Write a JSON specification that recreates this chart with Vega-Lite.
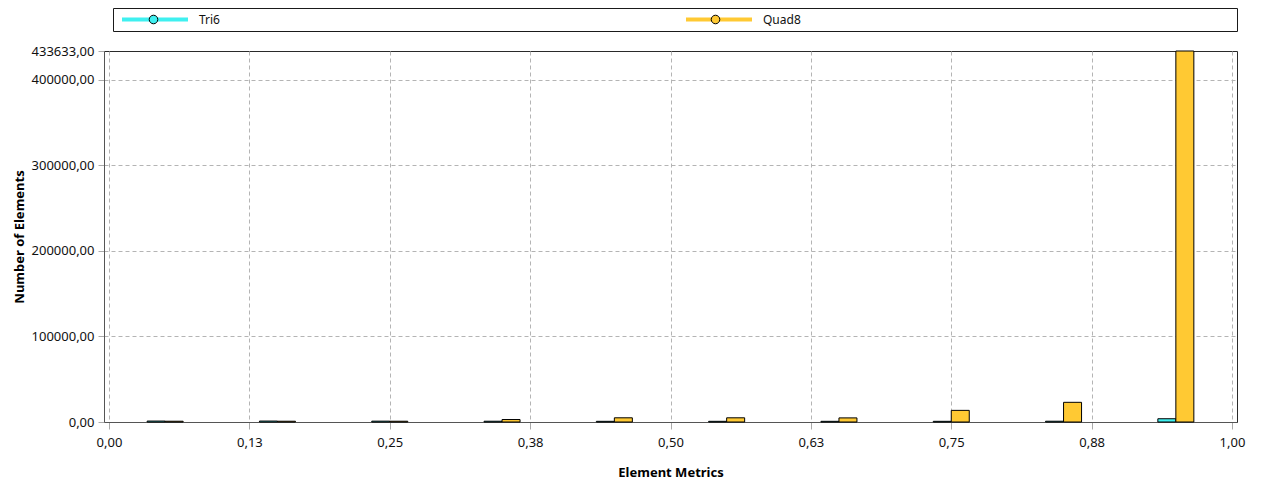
{
  "$schema": "https://vega.github.io/schema/vega-lite/v6.json",
  "width": 1133,
  "height": 371,
  "autosize": {"type": "none"},
  "padding": {"left": 104, "top": 51, "right": 32, "bottom": 65},
  "background": "white",
  "data": {
    "values": [
      {"metric": 0.05, "series": "Tri6", "count": 1100},
      {"metric": 0.15, "series": "Tri6", "count": 1100},
      {"metric": 0.25, "series": "Tri6", "count": 1000},
      {"metric": 0.35, "series": "Tri6", "count": 900},
      {"metric": 0.45, "series": "Tri6", "count": 800},
      {"metric": 0.55, "series": "Tri6", "count": 800},
      {"metric": 0.65, "series": "Tri6", "count": 800},
      {"metric": 0.75, "series": "Tri6", "count": 800},
      {"metric": 0.85, "series": "Tri6", "count": 900},
      {"metric": 0.95, "series": "Tri6", "count": 3800},
      {"metric": 0.05, "series": "Quad8", "count": 900},
      {"metric": 0.15, "series": "Quad8", "count": 900},
      {"metric": 0.25, "series": "Quad8", "count": 900},
      {"metric": 0.35, "series": "Quad8", "count": 2900},
      {"metric": 0.45, "series": "Quad8", "count": 4900},
      {"metric": 0.55, "series": "Quad8", "count": 4900},
      {"metric": 0.65, "series": "Quad8", "count": 4800},
      {"metric": 0.75, "series": "Quad8", "count": 13600},
      {"metric": 0.85, "series": "Quad8", "count": 23000},
      {"metric": 0.95, "series": "Quad8", "count": 433633}
    ]
  },
  "encoding": {
    "x": {
      "field": "metric",
      "type": "quantitative",
      "scale": {"domain": [0, 1], "nice": false, "zero": false},
      "axis": {
        "title": "Element Metrics",
        "values": [0, 0.125, 0.25, 0.375, 0.5, 0.625, 0.75, 0.875, 1],
        "labelExpr": "replace(format(datum.value, '.2f'), '.', ',')",
        "tickSize": 7,
        "labelPadding": 7,
        "titlePadding": 17
      }
    },
    "y": {
      "field": "count",
      "type": "quantitative",
      "scale": {"domain": [0, 433633], "nice": false},
      "axis": {
        "title": "Number of Elements",
        "values": [0, 100000, 200000, 300000, 400000, 433633],
        "labelExpr": "replace(format(datum.value, '.2f'), '.', ',')",
        "gridOpacity": {"condition": {"test": "datum.value > 430000", "value": 0}, "value": 1},
        "tickSize": 6,
        "labelPadding": 4,
        "titlePadding": 5
      }
    }
  },
  "layer": [
    {
      "transform": [{"filter": "datum.series === 'Tri6'"}],
      "mark": {"type": "bar", "width": 18, "xOffset": -9, "stroke": "black", "strokeWidth": 1},
      "encoding": {
        "fill": {
          "field": "series",
          "type": "nominal",
          "scale": {"domain": ["Tri6", "Quad8"], "range": ["#3ff0f0", "#ffc933"]},
          "legend": {
            "orient": "none",
            "legendX": 9,
            "legendY": -43,
            "direction": "horizontal",
            "columns": 2,
            "title": null,
            "padding": 4,
            "symbolType": "M-1,0M1,0M0.13,0A0.13,0.13 0 1 1 -0.13,0A0.13,0.13 0 1 1 0.13,0Z",
            "symbolSize": 4356,
            "symbolStrokeColor": "black",
            "symbolStrokeWidth": 1,
            "symbolOpacity": 1,
            "symbolOffset": 3,
            "labelOffset": 9,
            "labelExpr": "''",
            "columnPadding": 483,
            "clipHeight": 15,
            "zindex": 2
          }
        }
      }
    },
    {
      "transform": [{"filter": "datum.series === 'Quad8'"}],
      "mark": {"type": "bar", "width": 18, "xOffset": 9, "stroke": "black", "strokeWidth": 1},
      "encoding": {
        "fill": {"field": "series", "type": "nominal"}
      }
    },
    {
      "mark": {"type": "point", "opacity": 0},
      "encoding": {
        "stroke": {
          "field": "series",
          "type": "nominal",
          "sort": ["Tri6", "Quad8"],
          "scale": {"range": ["#3ff0f0", "#ffc933"]},
          "legend": {
            "orient": "none",
            "legendX": 9,
            "legendY": -43,
            "direction": "horizontal",
            "columns": 2,
            "title": " ",
            "titleOrient": "right",
            "titlePadding": 432,
            "titleColor": "transparent",
            "padding": 4,
            "strokeColor": "#1a1a1a",
            "fillColor": "white",
            "symbolType": "M-1,0H1",
            "symbolSize": 4356,
            "symbolStrokeWidth": 4,
            "symbolFillColor": "transparent",
            "symbolOpacity": 1,
            "symbolOffset": 3,
            "labelOffset": 9,
            "labelColor": "#111111",
            "columnPadding": 461,
            "clipHeight": 15,
            "zindex": 1
          }
        }
      }
    }
  ],
  "config": {
    "font": "Noto Sans",
    "view": {"stroke": "#2a2a2a", "strokeWidth": 1},
    "axis": {
      "labelFont": "Noto Sans",
      "labelFontSize": 13,
      "labelColor": "#111111",
      "labelFlush": false,
      "labelOverlap": false,
      "labelBound": false,
      "titleFont": "Noto Sans",
      "titleFontSize": 13,
      "titleFontWeight": "bold",
      "titleColor": "#000000",
      "domainColor": "#555555",
      "tickColor": "#aaaaaa",
      "grid": true,
      "gridColor": "#b4b4b4",
      "gridDash": [4, 3],
      "gridWidth": 1
    },
    "legend": {
      "labelFont": "Noto Sans",
      "labelFontSize": 12,
      "titleFont": "Noto Sans",
      "titleFontSize": 12
    }
  }
}
